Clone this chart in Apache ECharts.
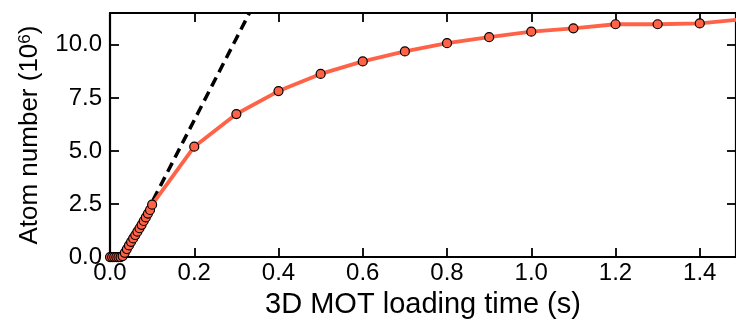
<!DOCTYPE html>
<html>
<head>
<meta charset="utf-8">
<script src="https://cdn.jsdelivr.net/npm/echarts@6/dist/echarts.min.js"></script>
<style>
html,body{margin:0;padding:0;background:#fff;}
#chart{width:736px;height:324px;}
</style>
</head>
<body>
<div id="chart"></div>
<script>
// Loading time (s)
const loadTime = [0, 0.005, 0.01, 0.015, 0.02, 0.025, 0.03, 0.035, 0.04, 0.045, 0.05,
  0.055, 0.06, 0.065, 0.07, 0.075, 0.08, 0.085, 0.09, 0.095, 0.1,
  0.2, 0.3, 0.4, 0.5, 0.6, 0.7, 0.8, 0.9, 1.0, 1.1, 1.2, 1.3, 1.4, 1.5];
// Atom number (10^6)
const atomNumber = [0, 0, 0, 0, 0, 0, 0.05, 0.2, 0.38, 0.55, 0.72,
  0.88, 1.04, 1.2, 1.36, 1.52, 1.7, 1.87, 2.05, 2.22, 2.47,
  5.2, 6.74, 7.82, 8.63, 9.22, 9.69, 10.08, 10.36, 10.62, 10.78, 10.97, 10.97, 11.01, 11.2];
// Initial-slope guide line
const slopeTime = [0.0325, 0.331];
const slopeAtoms = [0, 11.5];
// Axis ticks
const xTicks = [0.0, 0.2, 0.4, 0.6, 0.8, 1.0, 1.2, 1.4];
const yTicks = [0.0, 2.5, 5.0, 7.5, 10.0];

const X_MAX = 1.486, Y_MAX = 11.5;
const FONT = 'Liberation Sans';
const fmt = v => v.toFixed(1);

const chart = echarts.init(document.getElementById('chart'), null, {renderer: 'canvas'});
const axisLine = {show: true, onZero: false, lineStyle: {color: '#000', width: 2.2}};
const tickIn = {show: true, inside: true, length: 9, lineStyle: {color: '#000', width: 1.8}};

chart.setOption({
  animation: false,
  grid: {left: 110, top: 13, right: -2, bottom: 64.5, containLabel: false},
  xAxis: [{
    type: 'value', min: 0, max: X_MAX, interval: 0.2, position: 'bottom',
    axisLine: axisLine, axisTick: tickIn, splitLine: {show: false},
    axisLabel: {color: '#000', fontFamily: FONT, fontSize: 24, margin: 4, showMaxLabel: false,
      formatter: v => xTicks.some(t => Math.abs(t - v) < 1e-6) ? fmt(v) : ''},
    name: '3D MOT loading time (s)', nameLocation: 'middle', nameGap: 28,
    nameTextStyle: {color: '#000', fontFamily: FONT, fontSize: 29}
  }, {
    type: 'value', min: 0, max: X_MAX, interval: 0.2, position: 'top',
    axisLine: axisLine, axisTick: tickIn, axisLabel: {show: false}, splitLine: {show: false}
  }],
  yAxis: [{
    type: 'value', min: 0, max: Y_MAX, interval: 2.5, position: 'left',
    axisLine: axisLine, axisTick: tickIn, splitLine: {show: false},
    axisLabel: {color: '#000', fontFamily: FONT, fontSize: 24, margin: 8, showMaxLabel: false,
      formatter: v => yTicks.some(t => Math.abs(t - v) < 1e-6) ? fmt(v) : ''},
    name: 'Atom number (10{sup|6})', nameLocation: 'middle', nameGap: 67, nameRotate: 90,
    nameTextStyle: {color: '#000', fontFamily: FONT, fontSize: 26,
      rich: {sup: {fontFamily: FONT, fontSize: 17, verticalAlign: 'top', color: '#000', padding: [0, 0, 9, 0]}}}
  }, {
    type: 'value', min: 0, max: Y_MAX, interval: 2.5, position: 'right',
    axisLine: axisLine, axisTick: tickIn, axisLabel: {show: false}, splitLine: {show: false}
  }],
  series: [{
    type: 'line', xAxisIndex: 0, yAxisIndex: 0, z: 2,
    data: slopeTime.map((t, i) => [t, slopeAtoms[i]]),
    symbol: 'none', clip: true,
    lineStyle: {color: '#000', width: 3.5, type: [10, 6]}
  }, {
    type: 'line', xAxisIndex: 0, yAxisIndex: 0, z: 3,
    data: loadTime.map((t, i) => [t, atomNumber[i]]),
    symbol: 'circle', symbolSize: 9, clip: true,
    lineStyle: {color: '#FF6347', width: 3.8},
    itemStyle: {color: '#FF6347', borderColor: '#000', borderWidth: 1.2}
  }]
});
</script>
</body>
</html>
